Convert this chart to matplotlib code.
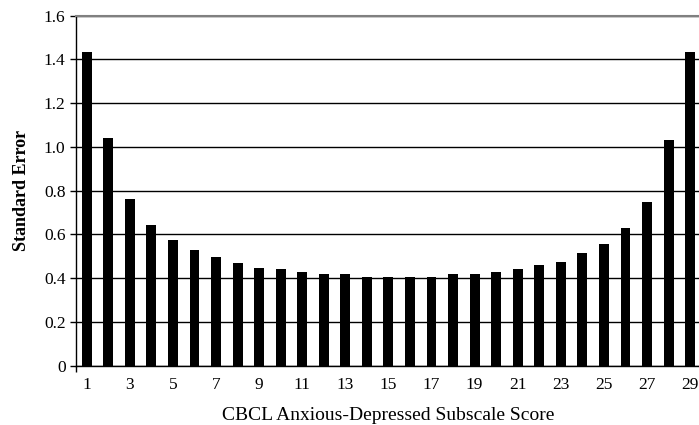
import matplotlib.pyplot as plt

scores = list(range(1, 30))
std_error = [1.434, 1.042, 0.762, 0.643, 0.575, 0.529, 0.497, 0.470, 0.446, 0.442,
             0.429, 0.419, 0.419, 0.405, 0.405, 0.405, 0.405, 0.419, 0.419, 0.428,
             0.442, 0.459, 0.474, 0.515, 0.556, 0.629, 0.748, 1.032, 1.434]
yticks = [0, 0.2, 0.4, 0.6, 0.8, 1.0, 1.2, 1.4, 1.6]
ylabels = ["0", "0.2", "0.4", "0.6", "0.8", "1.0", "1.2", "1.4", "1.6"]

plt.rcParams["font.family"] = ["Liberation Serif", "DejaVu Serif"]

fig = plt.figure(figsize=(6.99, 4.25), dpi=100)
ax = fig.add_axes([0.1087, 0.1395, 0.894, 0.8235])

ax.bar(scores, std_error, width=0.46, color="black", zorder=3)
ax.set_xlim(0.5, 29.5)
ax.set_ylim(0, 1.6)

ax.set_yticks(yticks)
ax.set_yticklabels(ylabels, fontsize=12.5)
ax.set_xticks(scores[::2])
ax.set_xticklabels([str(s) for s in scores[::2]], fontsize=12.5)
ax.tick_params(axis="x", length=0, pad=8)
ax.tick_params(axis="y", direction="out", length=4, width=1)
# small tick below the origin, as in the original
ax.set_xticks([0.5], minor=True)
ax.tick_params(axis="x", which="minor", length=4, width=1, direction="out")

ax.yaxis.grid(True, color="black", linewidth=1, zorder=0)
ax.set_axisbelow(True)
ax.spines["top"].set_color("#808080")
ax.spines["top"].set_linewidth(1.5)
ax.spines["right"].set_visible(False)
ax.spines["left"].set_linewidth(1)
ax.spines["bottom"].set_linewidth(1)

ax.set_ylabel("Standard Error", fontsize=13, fontweight="bold", labelpad=10)
ax.set_xlabel("CBCL Anxious-Depressed Subscale Score", fontsize=14, labelpad=10)

fig.savefig("out.png", dpi=100)
